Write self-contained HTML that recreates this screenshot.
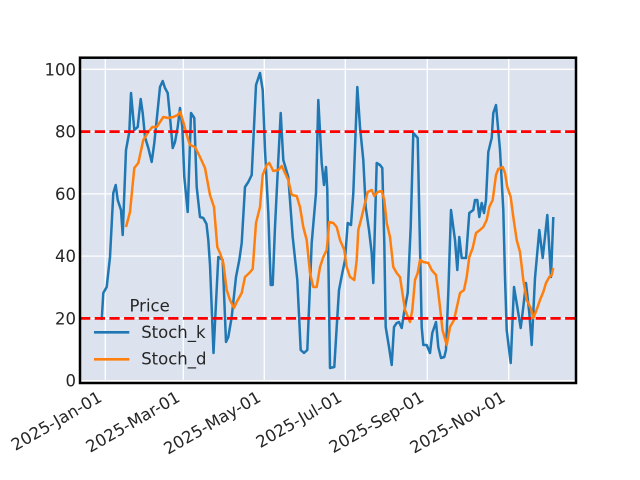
<!DOCTYPE html>
<html>
<head>
<meta charset="utf-8">
<style>
html,body{margin:0;padding:0;background:#ffffff;}
svg{display:block;}
text{font-family:"DejaVu Sans","Liberation Sans",sans-serif;fill:#262626;}
</style>
</head>
<body>
<svg width="640" height="480" viewBox="0 0 640 480" xmlns="http://www.w3.org/2000/svg">
<defs>
<clipPath id="ax"><rect x="80" y="57.7" width="496" height="325.3"/></clipPath>
</defs>
<rect x="0" y="0" width="640" height="480" fill="#ffffff"/>
<rect x="80" y="57.7" width="496" height="325.3" fill="#dde3ee"/>
<g stroke="#ffffff" stroke-width="1.3" clip-path="url(#ax)">
<line x1="80" x2="576" y1="380.7" y2="380.7"/>
<line x1="80" x2="576" y1="318.4" y2="318.4"/>
<line x1="80" x2="576" y1="256.1" y2="256.1"/>
<line x1="80" x2="576" y1="193.9" y2="193.9"/>
<line x1="80" x2="576" y1="131.6" y2="131.6"/>
<line x1="80" x2="576" y1="69.3" y2="69.3"/>
<line y1="57.7" y2="383" x1="105.3" x2="105.3"/>
<line y1="57.7" y2="383" x1="183.3" x2="183.3"/>
<line y1="57.7" y2="383" x1="264.3" x2="264.3"/>
<line y1="57.7" y2="383" x1="345.3" x2="345.3"/>
<line y1="57.7" y2="383" x1="427.3" x2="427.3"/>
<line y1="57.7" y2="383" x1="508.7" x2="508.7"/>
</g>
<g clip-path="url(#ax)" fill="none" stroke-linejoin="round" stroke-linecap="butt">
<polyline stroke="#1f77b4" stroke-width="2.5" points="101.7,320 103.3,293 106.7,287 110,257 113.3,193 115.7,185 117.7,200 121,210 122.7,235 126,150 129.3,132 131,93 134.3,130 137.7,127 140.7,99 142.7,113 145,137 148.3,148 151.7,162 154.3,143 157.7,110 160,87 162.7,81 165,88 167.7,93 170,117 172.7,148 175,142 177.7,127 180,108 182.3,127 184.3,177 187.7,212 191,113 194.3,118 196.7,187 200,217 203.3,218 206.5,224 208.3,240 210,265 213.5,353 218.3,257 222.7,260 226,342 228.3,337 231.7,317 236,277 239.3,260 241.7,243 245,187 248.3,182 251.7,175 254,127 256,85 260,73 262.7,90 265,150 268.3,213 270.7,285 272.7,285 275,227 278.3,160 280.7,113 283.3,160 288.3,177 292.7,237 297.3,280 300.7,350 304,353 307.3,350 311.7,243 316,193 318.3,100 321.7,163 324,185 326,167 327.3,190 330,368 334.3,367 336.7,327 339,290 342.3,273 345,260 347.7,223 351,225 353.3,193 357.3,87 360,127 363.3,160 365.7,207 369,230 371.7,253 373.3,283 376.7,163 380,165 382.3,168 384.3,243 385.7,327 389,347 391.7,365 394,327 396.7,323 399,322 401.7,328 404,313 407.7,293 410.7,227 413.3,133 417.7,138 420,247 421.7,327 423.3,345 426.7,345 430,353 432.3,333 436,322 438.3,347 441,358 444.3,357 446,350 448.3,293 451,210 455,240 457.3,270 459.3,237 461.7,258 466,258 469.3,213 473.3,210 475,200 477.3,200 479.3,217 481.7,203 484,213 486,200 488.3,152 491.7,138 493.3,113 496,105 500,150 503.3,210 505,277 506.7,330 510.7,363 514,287 517.3,307 520.7,328 523.3,307 526,283 529.3,313 531.7,345 535,278 539.3,230 542.7,258 547.3,215 551,277 553.3,217"/>
<polyline stroke="#ff7f0e" stroke-width="2.5" points="126,227 130,212 134.3,168 138.3,163 143.3,140 148.3,132 152.3,127 156.7,127 160,122 163.3,117 168.3,118 173.3,117 177.7,115 180.3,112 183.3,122 187.7,138 190,145 195,147 200,157 205,168 210,195 214,207 217.3,247 220,253 223.3,263 226.7,290 230,300 234,308 236.7,302 241.7,293 245,277 249.3,273 252.7,269 256,223 260,207 262.7,175 266.7,165 269.3,163 273.3,171 278.3,170 281.7,166 285,173 288.3,180 291.7,195 296.7,196 300,207 303.3,227 306.7,240 310,273 313.3,287 316.7,287 320,267 323.3,257 326.7,250 329.3,222 333.3,223 336.7,227 340,240 344.3,250 346.7,267 350,277 354.3,280 356.7,260 358.3,230 361.7,217 365,203 367.7,192 371.7,190 374.3,196 377.7,192 381.7,191 384.3,200 386.7,223 390,237 393.3,267 396.7,273 400,277 405,310 410,322 412.3,310 415,280 417.7,273 420,260 423.3,262 428.3,263 431.7,270 436,275 438,290 440,307 442.5,330 446.7,345 450,327 454,320 460,293 464,290 466.7,277 469.3,257 472.7,248 476,233 480,230 483.3,227 486.7,220 489.3,207 492.7,200 496,175 498.3,169 502.7,167 505,173 507.3,187 510.7,197 513.3,217 516.7,240 520,252 523.3,280 526.7,300 530.7,308 533.3,318 537.3,308 540,300 543.3,292 546,283 549.3,277 551.7,275 553.3,268"/>
<line x1="80" x2="576" y1="131.6" y2="131.6" stroke="#ff0000" stroke-width="2.8" stroke-dasharray="10.3,4.4"/>
<line x1="80" x2="576" y1="318.4" y2="318.4" stroke="#ff0000" stroke-width="2.8" stroke-dasharray="10.3,4.4"/>
</g>
<rect x="80" y="57.7" width="496" height="325.3" fill="none" stroke="#000000" stroke-width="2.5"/>
<g font-size="16.5" text-anchor="end">
<text x="76" y="386.7">0</text>
<text x="76" y="324.4">20</text>
<text x="76" y="262.1">40</text>
<text x="76" y="199.9">60</text>
<text x="76" y="137.6">80</text>
<text x="76" y="75.3">100</text>
</g>
<g font-size="16.5" text-anchor="end">
<text transform="translate(103.1,400.5) rotate(-30)">2025-Jan-01</text>
<text transform="translate(181.1,400.5) rotate(-30)">2025-Mar-01</text>
<text transform="translate(262.1,400.5) rotate(-30)">2025-May-01</text>
<text transform="translate(343.1,400.5) rotate(-30)">2025-Jul-01</text>
<text transform="translate(425.1,400.5) rotate(-30)">2025-Sep-01</text>
<text transform="translate(506.5,400.5) rotate(-30)">2025-Nov-01</text>
</g>
<g font-size="16.5">
<text x="129.5" y="311.7">Price</text>
<text x="141.2" y="337.8">Stoch_k</text>
<text x="141.2" y="364.5">Stoch_d</text>
</g>
<line x1="94" x2="129.3" y1="332.3" y2="332.3" stroke="#1f77b4" stroke-width="2.6"/>
<line x1="94" x2="129.3" y1="359.3" y2="359.3" stroke="#ff7f0e" stroke-width="2.6"/>
</svg>
</body>
</html>
